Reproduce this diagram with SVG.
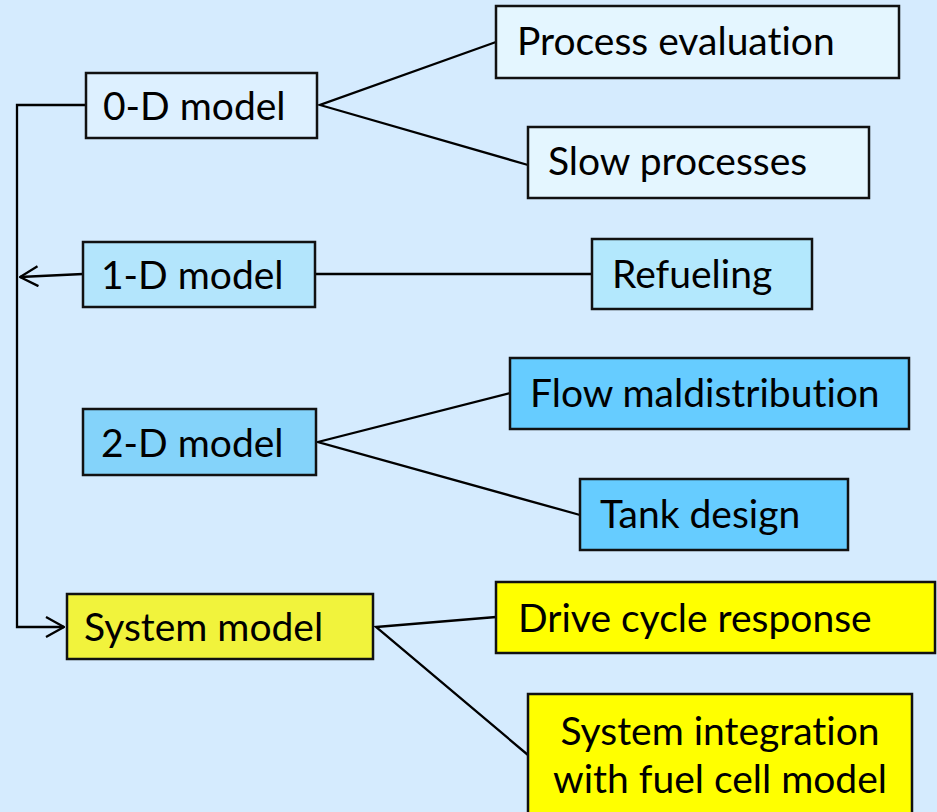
<svg xmlns="http://www.w3.org/2000/svg" width="937" height="812" viewBox="0 0 937 812">
  <defs>
    <style>
      .box { stroke: #111; stroke-width: 2.5; }
      .lbl { font-family: Lato, "Open Sans", "Liberation Sans", sans-serif; font-size: 39px; fill: #000; font-variant-ligatures: none; font-feature-settings: "liga" 0, "clig" 0, "calt" 0, "dlig" 0; }
      .wire { fill: none; stroke: #000; stroke-width: 2.3; }
    </style>
    <marker id="chev" viewBox="0 0 20 22" refX="19" refY="11" markerWidth="20" markerHeight="22" markerUnits="userSpaceOnUse" orient="auto">
      <path d="M1,1 L19,11 L1,21" fill="none" stroke="#000" stroke-width="2.3"/>
    </marker>
  </defs>

  <rect width="937" height="812" fill="#D5EBFE"/>

  <!-- connectors -->
  <g id="connectors">
    <path class="wire" d="M86,105 H17 V627 H64" marker-end="url(#chev)"/>
    <path class="wire" d="M83,274 L20,277" marker-end="url(#chev)"/>
    <path class="wire" d="M496,42 L320,105 L528,165"/>
    <path class="wire" d="M316,274 H592"/>
    <path class="wire" d="M510,393 L318,442 L580,515"/>
    <path class="wire" d="M496,617 L376,627 L528,755"/>
  </g>

  <!-- model levels -->
  <g id="model-0d">
    <rect class="box" x="86" y="73" width="231" height="65" fill="#DDF0FF"/>
    <text class="lbl" x="103" y="120">0-D model</text>
  </g>
  <g id="model-1d">
    <rect class="box" x="83" y="242" width="232" height="65" fill="#B3E5FC"/>
    <text class="lbl" x="101" y="289">1-D model</text>
  </g>
  <g id="model-2d">
    <rect class="box" x="83" y="409" width="233" height="66" fill="#84D3FA"/>
    <text class="lbl" x="101" y="457">2-D model</text>
  </g>
  <g id="model-system">
    <rect class="box" x="67" y="594" width="306" height="65" fill="#F1F33C"/>
    <text class="lbl" x="84" y="641">System model</text>
  </g>

  <!-- applications (ZWNJ keeps "t" and "i" as separate glyphs) -->
  <g id="app-process-evaluation">
    <rect class="box" x="496" y="6" width="403" height="72" fill="#E4F6FF"/>
    <text class="lbl" x="517" y="55">Process evaluat&#8204;ion</text>
  </g>
  <g id="app-slow-processes">
    <rect class="box" x="528" y="127" width="341" height="71" fill="#E4F6FF"/>
    <text class="lbl" x="548" y="175">Slow processes</text>
  </g>
  <g id="app-refueling">
    <rect class="box" x="592" y="239" width="220" height="70" fill="#B3E8FD"/>
    <text class="lbl" x="612" y="288">Refueling</text>
  </g>
  <g id="app-flow-maldistribution">
    <rect class="box" x="510" y="358" width="399" height="71" fill="#66CCFF"/>
    <text class="lbl" x="530" y="407">Flow maldistribut&#8204;ion</text>
  </g>
  <g id="app-tank-design">
    <rect class="box" x="580" y="479" width="268" height="71" fill="#66CCFF"/>
    <text class="lbl" x="600" y="528">Tank design</text>
  </g>
  <g id="app-drive-cycle">
    <rect class="box" x="496" y="582" width="439" height="71" fill="#FFFF00"/>
    <text class="lbl" x="518" y="632">Drive cycle response</text>
  </g>
  <g id="app-system-integration">
    <rect class="box" x="528" y="694" width="384" height="130" fill="#FFFF00"/>
    <text class="lbl" x="720" y="745" text-anchor="middle">System integrat&#8204;ion</text>
    <text class="lbl" x="720" y="793" text-anchor="middle">with fuel cell model</text>
  </g>
</svg>
